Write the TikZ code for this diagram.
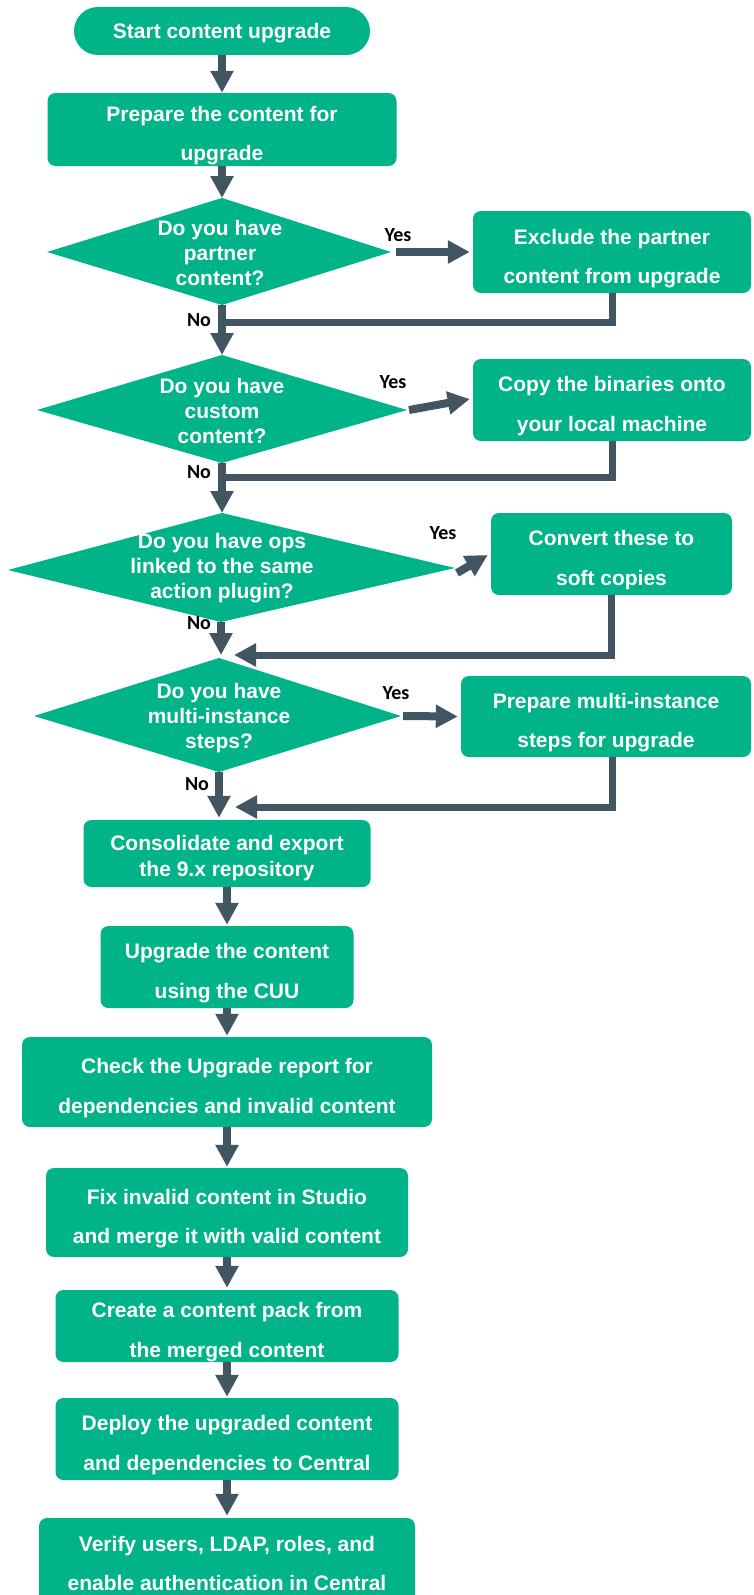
\documentclass[tikz,border=0pt]{standalone}
\usepackage{fontspec}
\setmainfont{Liberation Sans}
\newfontfamily\lblfamily{Carlito}
\usetikzlibrary{arrows.meta}
\definecolor{hgreen}{RGB}{0,179,136}
\definecolor{slate}{RGB}{66,85,99}
% invisible strut that sets the text a little lower inside its box
\newcommand\drop[1]{\rule{0pt}{#1}}
\begin{document}
\begin{tikzpicture}[x=1pt,y=-1pt,
  box/.style={fill=hgreen, text=white, rounded corners=8pt, inner sep=0pt,
    align=center, font=\bfseries\fontsize{21}{39.5}\selectfont},
  term/.style={box, rounded corners=24pt},
  dtext/.style={text=white, align=center, inner sep=0pt,
    font=\bfseries\fontsize{21}{25}\selectfont},
  flow/.style={draw=slate, line width=8pt, -{Triangle[width=22pt,length=22pt]}},
  back/.style={draw=slate, line width=7pt},
  backarrow/.style={back, -{Triangle[width=22pt,length=22pt]}},
  lbl/.style={text=black, inner sep=0pt, font=\lblfamily\bfseries\fontsize{20}{24}\selectfont}
]
\useasboundingbox (0,0) rectangle (753,1595);

% ---- main column, upper part ----
\node[term, minimum width=296pt, minimum height=48pt] (start) at (222,31) {\drop{20pt}Start content upgrade};
\node[box, minimum width=349pt, minimum height=73pt] (prep) at (222,129.5) {\drop{27pt}Prepare the content for\\upgrade};

% decision 1
\coordinate (d1t) at (222,198); \coordinate (d1b) at (222,305);
\coordinate (d1l) at (47,252);  \coordinate (d1r) at (391,252);
\fill[hgreen] (d1t) -- (d1r) -- (d1b) -- (d1l) -- cycle;
\node[dtext] (d1) at (220,253) {Do you have\\partner\\content?};
\node[box, minimum width=278pt, minimum height=82pt] (excl) at (612,252) {\drop{28pt}Exclude the partner\\content from upgrade};

% decision 2
\coordinate (d2t) at (222,355); \coordinate (d2b) at (222,463);
\coordinate (d2l) at (37,410);  \coordinate (d2r) at (407,410);
\fill[hgreen] (d2t) -- (d2r) -- (d2b) -- (d2l) -- cycle;
\node[dtext] (d2) at (222,411) {Do you have\\custom\\content?};
\node[box, minimum width=278pt, minimum height=82pt] (copy) at (612,400) {\drop{27pt}Copy the binaries onto\\your local machine};

% decision 3
\coordinate (d3t) at (222,513); \coordinate (d3b) at (221,622);
\coordinate (d3l) at (8,570);   \coordinate (d3r) at (455,568);
\fill[hgreen] (d3t) -- (d3r) -- (d3b) -- (d3l) -- cycle;
\node[dtext] (d3) at (222,568) {Do you have ops\\linked to the same\\action plugin?};
\node[box, minimum width=241pt, minimum height=82pt] (conv) at (611.5,554) {\drop{27pt}Convert these to\\soft copies};

% decision 4
\coordinate (d4t) at (219,658); \coordinate (d4b) at (219,772);
\coordinate (d4l) at (34,716);  \coordinate (d4r) at (401,716);
\fill[hgreen] (d4t) -- (d4r) -- (d4b) -- (d4l) -- cycle;
\node[dtext] (d4) at (219,718) {Do you have\\multi-instance\\steps?};
\node[box, minimum width=290pt, minimum height=81pt] (pmi) at (606,716.5) {\drop{27pt}Prepare multi-instance\\steps for upgrade};

% ---- main column, lower part ----
\node[box, minimum width=287pt, minimum height=67pt,
      font=\bfseries\fontsize{21}{26}\selectfont] (cons) at (227,853.5) {\drop{25pt}Consolidate and export\\the 9.x repository};
\node[box, minimum width=253pt, minimum height=82pt] (upg) at (227,967) {\drop{27pt}Upgrade the content\\using the CUU};
\node[box, minimum width=410pt, minimum height=90pt] (chk) at (227,1082) {\drop{27pt}Check the Upgrade report for\\dependencies and invalid content};
\node[box, minimum width=362pt, minimum height=89pt] (fix) at (227,1212.5) {\drop{27pt}Fix invalid content in Studio\\and merge it with valid content};
\node[box, minimum width=343pt, minimum height=72pt] (crt) at (227,1326) {\drop{27pt}Create a content pack from\\the merged content};
\node[box, minimum width=343pt, minimum height=82pt] (dep) at (227,1439) {\drop{27pt}Deploy the upgraded content\\and dependencies to Central};
\node[box, minimum width=376pt, minimum height=87pt] (ver) at (227,1561.5) {\drop{19pt}Verify users, LDAP, roles, and\\enable authentication in Central};

% junctions where the side branches rejoin the main column
\coordinate (j1) at (222,322);
\coordinate (j2) at (222,477);
\coordinate (j3) at (234,655);
\coordinate (j4) at (235,807);

% ---- connectors ----
\draw[flow] (start) -- (prep);
\draw[flow] (prep) -- (d1t);
\draw[flow] (d1b) -- (d2t);
\draw[flow] (d2b) -- (d3t);
\draw[flow] (d3b) -- ([yshift=3pt]d3b |- d4t);
\draw[flow] (d4b) -- ([yshift=2pt]d4b |- cons.north);
\draw[flow] (cons) -- ([yshift=1pt]upg.north);
\draw[flow] (upg) -- ([yshift=1pt]chk.north);
\draw[flow] (chk) -- ([yshift=1pt]fix.north);
\draw[flow] (fix) -- ([yshift=2pt]crt.north);
\draw[flow] (crt) -- ([yshift=1pt]dep.north);
\draw[flow] (dep) -- ([yshift=2pt]ver.north);

% yes branches
\draw[flow] ([xshift=5pt]d1r) -- ([xshift=-3pt]excl.west);
\draw[flow] ([xshift=2pt]d2r) -- ([xshift=-3pt,yshift=1pt]copy.west);
\draw[flow] ([xshift=2pt,yshift=-5pt]d3r) -- ([xshift=-3pt,yshift=-1pt]conv.west);
\draw[flow] ([xshift=2pt]d4r) -- ([xshift=-3pt]pmi.west);

% return paths
\draw[back] (excl.south) |- (j1);
\draw[back] (copy.south) |- (j2);
\draw[backarrow] (conv.south) |- (j3);
\draw[backarrow] ([xshift=6pt]pmi.south) |- (j4);

% branch labels
\node[lbl] (y1) at (398,235) {Yes};
\node[lbl] (n1) at (199,320) {No};
\node[lbl] (y2) at (393,382) {Yes};
\node[lbl] (n2) at (199,472) {No};
\node[lbl] (y3) at (443,533) {Yes};
\node[lbl] (n3) at (199,623) {No};
\node[lbl] (y4) at (396,693) {Yes};
\node[lbl] (n4) at (197,784) {No};
\end{tikzpicture}
\end{document}
